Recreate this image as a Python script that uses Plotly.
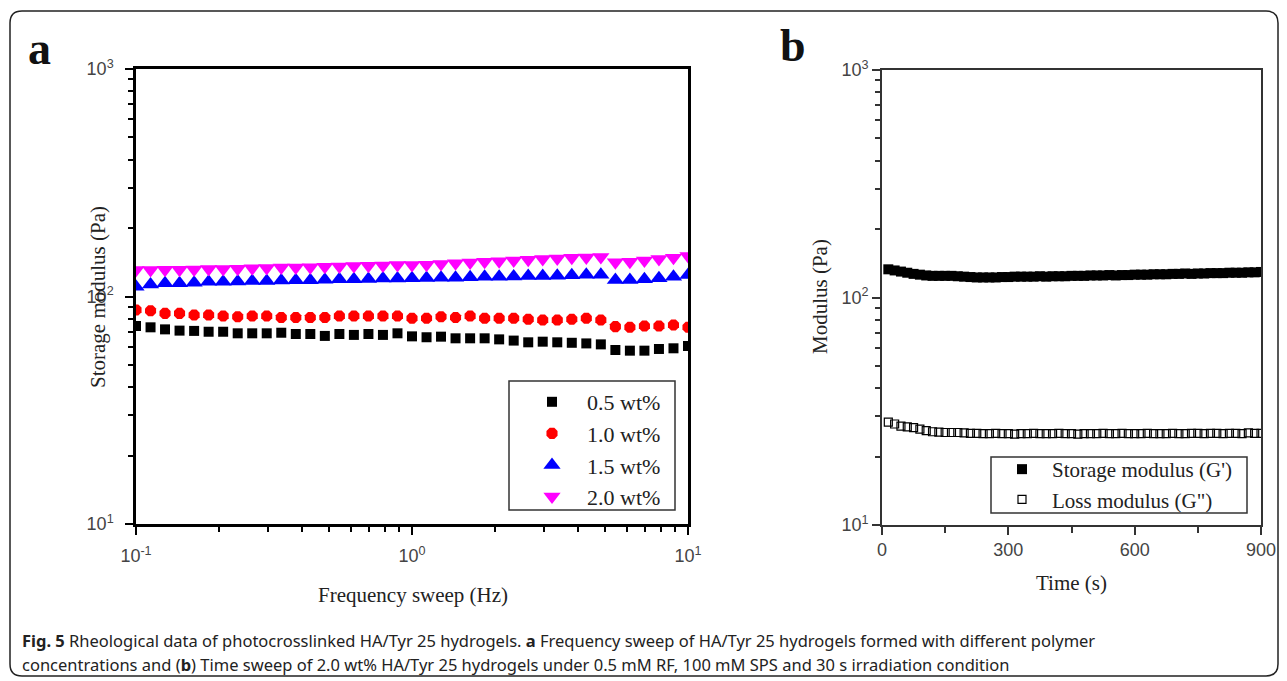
import plotly.graph_objects as go

# ---------------- data ----------------
freq_hz = [0.1, 0.1129, 0.1274, 0.1438, 0.1624, 0.1833, 0.2069, 0.2336, 0.2637, 0.2976,
           0.3360, 0.3793, 0.4281, 0.4833, 0.5456, 0.6158, 0.6952, 0.7848, 0.8859, 1.0,
           1.129, 1.274, 1.438, 1.624, 1.833, 2.069, 2.336, 2.637, 2.976, 3.360,
           3.793, 4.281, 4.833, 5.456, 6.158, 6.952, 7.848, 8.859, 10.0]

g_05 = [74.2, 73.2, 71.7, 70.8, 70.6, 70.0, 70.0, 68.9, 68.9, 68.9,
        69.3, 68.4, 68.4, 67.1, 68.4, 67.8, 68.4, 67.8, 68.9, 66.8,
        66.2, 66.6, 65.5, 65.5, 65.5, 64.8, 64.0, 62.9, 63.3, 62.9,
        62.6, 62.2, 61.6, 58.2, 57.8, 57.8, 58.8, 59.2, 60.6]
g_10 = [87.3, 86.6, 84.3, 84.3, 82.9, 82.9, 82.1, 81.5, 82.1, 82.1,
        80.9, 80.9, 80.9, 80.9, 82.1, 82.1, 82.1, 82.1, 82.1, 80.2,
        80.2, 81.5, 80.9, 82.1, 80.2, 80.2, 80.2, 79.4, 78.8, 78.8,
        79.4, 80.2, 78.8, 73.7, 73.2, 74.2, 74.2, 74.9, 73.2]
g_15 = [110.4, 113.0, 114.3, 114.3, 115.0, 116.0, 116.0, 116.5, 117.0, 117.0,
        117.5, 118.0, 118.0, 118.5, 119.0, 119.0, 119.5, 120.0, 120.0, 120.2,
        120.5, 121.0, 121.0, 121.5, 122.0, 122.0, 122.5, 123.0, 123.0, 123.5,
        124.0, 124.5, 124.5, 118.2, 118.2, 119.0, 120.2, 122.2, 124.3]
g_20 = [130.8, 130.8, 131.0, 131.0, 131.5, 132.0, 132.0, 132.5, 133.0, 133.5,
        134.0, 134.0, 134.5, 135.0, 135.5, 136.0, 136.5, 137.0, 137.5, 137.5,
        138.0, 139.0, 140.0, 141.0, 142.0, 143.0, 144.0, 145.0, 146.0, 147.0,
        148.0, 148.5, 149.0, 141.5, 142.2, 144.0, 146.0, 148.0, 150.6]
series_names_a = ["0.5 wt%", "1.0 wt%", "1.5 wt%", "2.0 wt%"]

time_s = [15, 30, 45, 60, 75, 90, 105, 120, 135, 150,
          165, 180, 195, 210, 225, 240, 255, 270, 285, 300,
          315, 330, 345, 360, 375, 390, 405, 420, 435, 450,
          465, 480, 495, 510, 525, 540, 555, 570, 585, 600,
          615, 630, 645, 660, 675, 690, 705, 720, 735, 750,
          765, 780, 795, 810, 825, 840, 855, 870, 885, 900]
storage_g1 = [133.0, 131.5, 130.0, 128.5, 127.0, 126.0, 125.0, 124.5, 124.5, 124.5,
              124.5, 124.0, 123.5, 123.0, 122.5, 122.5, 122.5, 122.5, 123.0, 123.0,
              123.5, 123.5, 123.5, 123.5, 124.0, 123.5, 124.0, 124.0, 124.0, 124.5,
              124.5, 124.5, 125.0, 125.0, 125.0, 125.5, 125.0, 125.5, 125.5, 126.0,
              126.0, 126.0, 126.5, 126.5, 126.5, 127.0, 127.0, 127.5, 127.0, 127.5,
              127.5, 128.0, 128.0, 128.0, 128.5, 128.5, 128.5, 129.0, 129.0, 129.5]
loss_g2 = [28.3, 27.8, 27.2, 27.0, 26.8, 26.4, 26.0, 25.7, 25.6, 25.5,
           25.5, 25.5, 25.4, 25.3, 25.3, 25.2, 25.2, 25.3, 25.2, 25.2,
           25.1, 25.2, 25.2, 25.3, 25.2, 25.2, 25.2, 25.3, 25.2, 25.2,
           25.1, 25.2, 25.2, 25.2, 25.3, 25.2, 25.2, 25.3, 25.2, 25.2,
           25.2, 25.3, 25.2, 25.2, 25.2, 25.3, 25.2, 25.2, 25.3, 25.3,
           25.2, 25.3, 25.3, 25.2, 25.3, 25.3, 25.2, 25.4, 25.3, 25.3]
series_names_b = ["Storage modulus (G')", 'Loss modulus (G")']

log_tickvals = [0.1, 1, 10]
log_ticktext_x = ["10<sup>-1</sup>", "10<sup>0</sup>", "10<sup>1</sup>"]
mod_tickvals = [10, 100, 1000]
mod_ticktext = ["10<sup>1</sup>", "10<sup>2</sup>", "10<sup>3</sup>"]
time_tickvals = [0, 300, 600, 900]
time_minor = [150, 450, 750]

caption1 = ("<b>Fig. 5</b> Rheological data of photocrosslinked HA/Tyr 25 hydrogels. <b>a</b> Frequency sweep "
            "of HA/Tyr 25 hydrogels formed with different polymer")
caption2 = ("concentrations and (<b>b</b>) Time sweep of 2.0 wt% HA/Tyr 25 hydrogels under 0.5 mM RF, "
            "100 mM SPS and 30 s irradiation condition")

# ---------------- layout helpers ----------------
# The page body has an 8 px margin; work in screen pixels and convert.
OFF = 8
W, H = 1279, 673
def px(x):
    return (x - OFF) / W
def py(y):
    return 1 - (y - OFF) / H

minor_log_x = [m * d for d in (0.1, 1) for m in range(2, 10)]
minor_log_y = [m * d for d in (10, 100) for m in range(2, 10)]

fig = go.Figure()

styles_a = [
    dict(symbol="square", size=10, color="black"),
    dict(symbol="octagon", size=12, color="#ff0000"),
    dict(symbol="triangle-up", size=15, color="#0000ff"),
    dict(symbol="triangle-down", size=15, color="#ff00ff"),
]
for name, vals, st in zip(series_names_a, [g_05, g_10, g_15, g_20], styles_a):
    fig.add_trace(go.Scatter(x=freq_hz, y=vals, mode="markers", name=name,
                             marker=dict(symbol=st["symbol"], size=st["size"], color=st["color"],
                                         line=dict(width=0)),
                             xaxis="x", yaxis="y", legend="legend"))

fig.add_trace(go.Scatter(x=time_s, y=storage_g1, mode="markers", name=series_names_b[0],
                         marker=dict(symbol="square", size=10, color="black", line=dict(width=0)),
                         xaxis="x2", yaxis="y2", legend="legend2"))
fig.add_trace(go.Scatter(x=time_s, y=loss_g2, mode="markers", name=series_names_b[1],
                         marker=dict(symbol="square-open", size=8, color="black", line=dict(width=1.2)),
                         xaxis="x2", yaxis="y2", legend="legend2"))

tickfont = dict(family="Liberation Sans, Arial", size=18, color="#444")
axis_a = dict(showline=True, linecolor="black", linewidth=2.5, mirror=True, ticks="outside",
              ticklen=8, tickwidth=2, tickcolor="black", showgrid=False, zeroline=False,
              tickfont=tickfont, automargin=False)
axis_b = dict(showline=True, linecolor="#333", linewidth=1.6, mirror=True, ticks="outside",
              ticklen=8, tickwidth=1.6, tickcolor="#333", showgrid=False, zeroline=False,
              tickfont=tickfont, automargin=False)

fig.update_layout(
    width=W, height=H, margin=dict(l=0, r=0, t=0, b=0, autoexpand=False),
    paper_bgcolor="white", plot_bgcolor="white",
    xaxis=dict(axis_a, type="log", range=[-1, 1], domain=[px(136), px(688)], anchor="y",
               tickmode="array", tickvals=log_tickvals, ticktext=log_ticktext_x,
               ticklabelstandoff=6,
               minor=dict(tickmode="array", tickvals=minor_log_x, ticks="outside", ticklen=5,
                          tickwidth=2, tickcolor="black", showgrid=False)),
    yaxis=dict(axis_a, type="log", range=[1, 3], domain=[py(524), py(69)], anchor="x",
               tickmode="array", tickvals=mod_tickvals, ticktext=mod_ticktext,
               ticklabelstandoff=8,
               minor=dict(tickmode="array", tickvals=minor_log_y, ticks="outside", ticklen=5,
                          tickwidth=2, tickcolor="black", showgrid=False)),
    xaxis2=dict(axis_b, type="linear", range=[0, 900], domain=[px(882), px(1261)], anchor="y2",
                tickmode="array", tickvals=time_tickvals,
                minor=dict(tickmode="array", tickvals=time_minor, ticks="outside", ticklen=6,
                           tickwidth=1.6, tickcolor="#333", showgrid=False)),
    yaxis2=dict(axis_b, type="log", range=[1, 3], domain=[py(525), py(70)], anchor="x2",
                tickmode="array", tickvals=mod_tickvals, ticktext=mod_ticktext,
                minor=dict(tickmode="array", tickvals=minor_log_y, ticks="outside", ticklen=5,
                           tickwidth=1.6, tickcolor="#333", showgrid=False)),
    legend=dict(x=px(517), y=py(381), xanchor="left", yanchor="top",
                borderwidth=0, bgcolor="rgba(0,0,0,0)",
                font=dict(family="Liberation Serif, Times New Roman", size=22, color="#222"),
                itemwidth=60, tracegroupgap=0),
    legend2=dict(x=px(992), y=py(449), xanchor="left", yanchor="top",
                 borderwidth=0, bgcolor="rgba(0,0,0,0)",
                 font=dict(family="Liberation Serif, Times New Roman", size=21, color="#222"),
                 itemwidth=50, tracegroupgap=0),
    showlegend=True,
)

serif = "Liberation Serif, Times New Roman"
ann = [
    dict(text="<b>a</b>", x=px(39), y=py(48), font=dict(family=serif, size=46, color="#111")),
    dict(text="<b>b</b>", x=px(793), y=py(45), font=dict(family=serif, size=46, color="#111")),
    dict(text="Storage modulus (Pa)", x=px(98), y=py(297), textangle=-90,
         font=dict(family=serif, size=21, color="#222")),
    dict(text="Frequency sweep (Hz)", x=px(413), y=py(595),
         font=dict(family=serif, size=21, color="#222")),
    dict(text="Modulus (Pa)", x=px(820), y=py(297), textangle=-90,
         font=dict(family=serif, size=21, color="#222")),
    dict(text="Time (s)", x=px(1071), y=py(583),
         font=dict(family=serif, size=21, color="#222")),
]
for a in ann:
    fig.add_annotation(xref="paper", yref="paper", showarrow=False, xanchor="center",
                       yanchor="middle", **a)
fig.add_annotation(text=caption1, x=px(20), y=py(640), xref="paper", yref="paper", showarrow=False,
                   xanchor="left", yanchor="middle",
                   font=dict(family="Noto Sans", size=16.5, color="#222"))
fig.add_annotation(text=caption2, x=px(20), y=py(664), xref="paper", yref="paper", showarrow=False,
                   xanchor="left", yanchor="middle",
                   font=dict(family="Noto Sans", size=16.5, color="#222"))

# legend frames
fig.add_shape(type="rect", xref="paper", yref="paper", x0=px(509), x1=px(675), y0=py(510), y1=py(381),
              line=dict(color="#333", width=1.5), layer="above")
fig.add_shape(type="rect", xref="paper", yref="paper", x0=px(991), x1=px(1247), y0=py(513), y1=py(457),
              line=dict(color="#333", width=1.5), layer="above")

# outer rounded frame
x0, x1, y0, y1, r = 10, 1278, 11, 676, 12
path = (f"M {px(x0+r)},{py(y0)} L {px(x1-r)},{py(y0)} Q {px(x1)},{py(y0)} {px(x1)},{py(y0+r)} "
        f"L {px(x1)},{py(y1-r)} Q {px(x1)},{py(y1)} {px(x1-r)},{py(y1)} "
        f"L {px(x0+r)},{py(y1)} Q {px(x0)},{py(y1)} {px(x0)},{py(y1-r)} "
        f"L {px(x0)},{py(y0+r)} Q {px(x0)},{py(y0)} {px(x0+r)},{py(y0)} Z")
fig.add_shape(type="path", path=path, xref="paper", yref="paper",
              line=dict(color="#222", width=1.5), layer="below")

fig.write_html("out.html")
